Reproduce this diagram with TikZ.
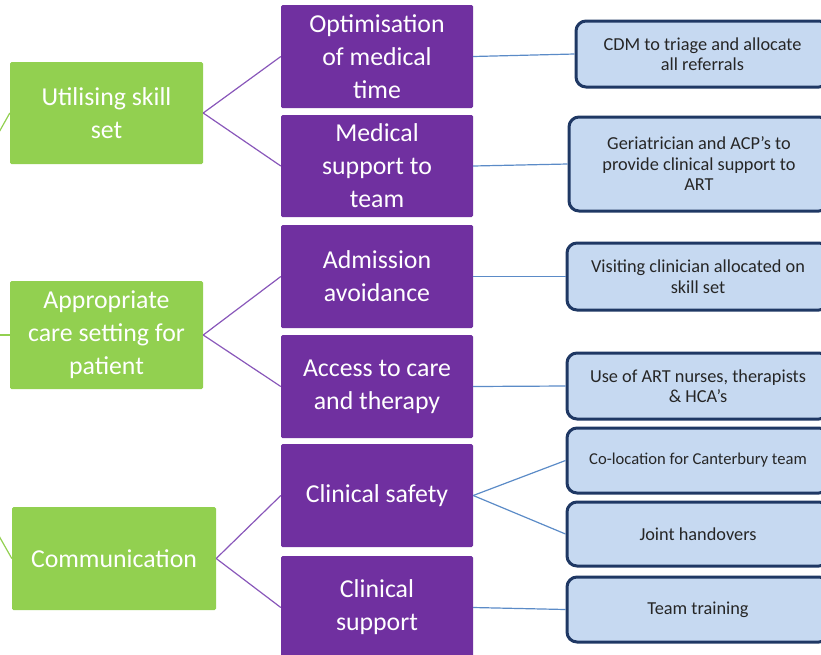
\documentclass[tikz,border=0pt]{standalone}
\usepackage{fontspec}
\setmainfont{Carlito}
\usepackage{tikz}
\usetikzlibrary{calc}

\definecolor{aimgreen}{RGB}{146,208,80}
\definecolor{aimpurple}{RGB}{112,48,160}
\definecolor{ideablue}{RGB}{198,217,241}
\definecolor{ideaborder}{RGB}{31,56,100}
\definecolor{purpleline}{RGB}{137,87,186}
\definecolor{blueline}{RGB}{91,139,199}

\begin{document}
\begin{tikzpicture}[x=1pt,y=-1pt,
        aim/.style={fill=aimgreen,text=white,rounded corners=1.5pt,align=center,inner sep=0pt,font=\fontsize{25.8}{33}\selectfont},
        driver/.style={fill=aimpurple,text=white,rounded corners=1.5pt,align=center,inner sep=0pt,minimum width=192pt,font=\fontsize{25.8}{33}\selectfont},
        idea/.style={draw=ideaborder,line width=3pt,fill=ideablue,text=black!85,rounded corners=10pt,align=center,inner sep=0pt,minimum width=262pt,font=\fontsize{18.3}{20.5}\selectfont},
        greenedge/.style={aimgreen,line width=1.2pt},
        purpleedge/.style={purpleline,line width=1.2pt},
        blueedge/.style={blueline,line width=1.2pt}]
        \useasboundingbox (0,0) rectangle (821,654);
        \clip (0,0) rectangle (821,654);
        \coordinate (root) at (-115,335);

        % first column
        \node[aim,minimum width=193pt,minimum height=102pt] (skill) at (106.5,113) {Utilising skill\\set};
        \node[aim,minimum width=193pt,minimum height=108pt] (setting) at (106.5,335) {Appropriate\\care setting for\\patient};
        \node[aim,minimum width=204pt,minimum height=103pt] (comms) at (114,558.5) {Communication};

        % second column
        \node[driver,minimum height=103pt] (medtime) at (377,56.5) {Optimisation\\of medical\\time};
        \node[driver,minimum height=102pt] (medsupport) at (377,166) {Medical\\support to\\team};
        \node[driver,minimum height=103pt] (admission) at (377,276.5) {Admission\\avoidance};
        \node[driver,minimum height=103pt] (access) at (377,386.5) {Access to care\\and therapy};
        \node[driver,minimum height=103pt] (safety) at (377,495.5) {Clinical safety};
        \node[driver,minimum height=103pt] (clinsupport) at (377,607.5) {Clinical\\support};

        % third column
        \node[idea,minimum width=253pt,minimum height=66pt] (triage) at (702.5,54) {CDM to triage and allocate\\all referrals};
        \node[idea,minimum width=260pt,minimum height=94pt] (geriatric) at (699,164) {Geriatrician and ACP’s to\\provide clinical support to\\ART};
        \node[idea,minimum height=67pt] (visiting) at (698,276.5) {Visiting clinician allocated on\\skill set};
        \node[idea,minimum height=66pt] (nurses) at (698,386) {Use of ART nurses, therapists\\\& HCA’s};
        \node[idea,minimum height=65pt,font=\fontsize{16.6}{20}\selectfont] (colocation) at (698,460.5) {Co-location for Canterbury team};
        \node[idea,minimum height=64pt] (handover) at (698,534) {Joint handovers};
        \node[idea,minimum height=65pt] (training) at (698,609.5) {Team training};

        % connectors
        \draw[greenedge] (root) -- (skill.west);
        \draw[greenedge] (root) -- (setting.west);
        \draw[greenedge] (root) -- (comms.west);

        \draw[purpleedge] (skill.east) -- (medtime.west);
        \draw[purpleedge] (skill.east) -- (medsupport.west);
        \draw[purpleedge] (setting.east) -- (admission.west);
        \draw[purpleedge] (setting.east) -- (access.west);
        \draw[purpleedge] (comms.east) -- (safety.west);
        \draw[purpleedge] (comms.east) -- (clinsupport.west);

        \draw[blueedge] (medtime.east) -- (triage.west);
        \draw[blueedge] (medsupport.east) -- (geriatric.west);
        \draw[blueedge] (admission.east) -- (visiting.west);
        \draw[blueedge] (access.east) -- (nurses.west);
        \draw[blueedge] (safety.east) -- (colocation.west);
        \draw[blueedge] (safety.east) -- (handover.west);
        \draw[blueedge] (clinsupport.east) -- (training.west);
    \end{tikzpicture}
\end{document}
